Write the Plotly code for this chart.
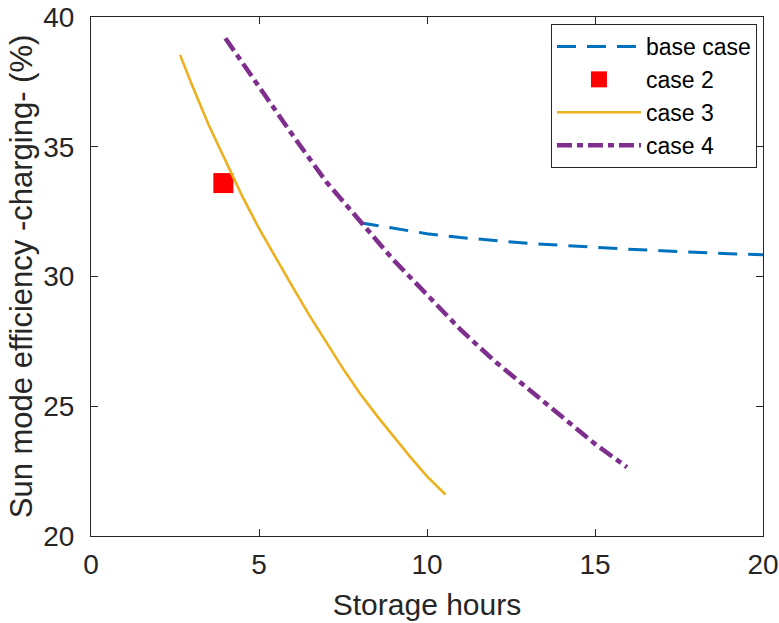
import plotly.graph_objects as go

# ---- data ----
base_x = [8, 9, 10, 11, 12, 13, 14, 15, 16, 17, 18, 19, 20]
base_y = [32.07, 31.85, 31.65, 31.5, 31.38, 31.28, 31.2, 31.12, 31.05, 30.99, 30.93, 30.88, 30.84]

case2_x = [3.94]
case2_y = [33.6]

case3_x = [2.65, 3.0, 3.5, 4.0, 4.5, 5.0, 5.5, 6.0, 6.5, 7.0, 7.5, 8.0, 8.5, 9.0, 9.5, 10.0, 10.55]
case3_y = [38.54, 37.4, 35.85, 34.45, 33.1, 31.85, 30.7, 29.6, 28.5, 27.45, 26.45, 25.5, 24.65, 23.85, 23.05, 22.3, 21.6]

case4_x = [4.0, 5.0, 6.0, 7.0, 8.0, 9.0, 10.0, 11.0, 12.0, 13.0, 14.0, 15.0, 15.95]
case4_y = [39.18, 37.3, 35.45, 33.65, 32.12, 30.64, 29.3, 27.95, 26.75, 25.7, 24.6, 23.55, 22.65]

x_ticks = [0, 5, 10, 15, 20]
y_ticks = [20, 25, 30, 35, 40]

x_title = "Storage hours"
y_title = "Sun mode efficiency -charging- (%)"

FONT = "Liberation Sans, Arial, Helvetica, sans-serif"
TXT = "#262626"

fig = go.Figure()
fig.add_trace(go.Scatter(x=base_x, y=base_y, mode="lines", name="base case",
                         line=dict(color="#0072BD", width=3, dash="19px,11px")))
fig.add_trace(go.Scatter(x=case2_x, y=case2_y, mode="markers", name="case 2",
                         marker=dict(symbol="square", size=20, color="#FF0000",
                                     line=dict(width=0))))
fig.add_trace(go.Scatter(x=case3_x, y=case3_y, mode="lines", name="case 3",
                         line=dict(color="#EDB120", width=2.6)))
fig.add_trace(go.Scatter(x=case4_x, y=case4_y, mode="lines", name="case 4",
                         line=dict(color="#7E2F8E", width=4.5, dash="15px,5px,6px,5px")))

axis_common = dict(
    showgrid=False, zeroline=False, showline=True, linecolor=TXT, linewidth=1,
    mirror="ticks", ticks="inside", ticklen=7, tickwidth=1, tickcolor=TXT,
    tickfont=dict(family=FONT, size=28, color=TXT), automargin=False,
)

fig.update_xaxes(range=[0, 20], tickvals=x_ticks, ticklabelstandoff=3,
                 title=dict(text=x_title, font=dict(family=FONT, size=30, color=TXT), standoff=15),
                 **axis_common)
fig.update_yaxes(range=[20, 40], tickvals=y_ticks, ticklabelstandoff=10,
                 title=dict(text=y_title, font=dict(family=FONT, size=31, color=TXT), standoff=1),
                 **axis_common)

fig.update_layout(
    width=779, height=623,
    margin=dict(l=91, r=16, t=17, b=87, autoexpand=False),
    paper_bgcolor="white", plot_bgcolor="white",
    font=dict(family=FONT, color=TXT),
    showlegend=True,
    legend=dict(x=0.991, y=0.9865, xanchor="right", yanchor="top",
                bgcolor="white", bordercolor=TXT, borderwidth=1,
                font=dict(family=FONT, size=23, color="black"),
                itemwidth=84, tracegroupgap=0),
)

fig.write_html("out.html", config={"displayModeBar": False},
               post_script="document.body.style.margin='0';document.body.style.overflow='hidden';")
